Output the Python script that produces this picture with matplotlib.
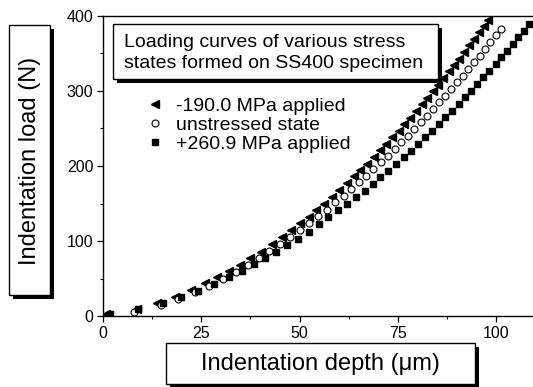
import matplotlib
matplotlib.use("Agg")
import matplotlib.pyplot as plt
import matplotlib.patheffects as pe
from matplotlib.patches import Rectangle

plt.rcParams["font.family"] = ["Liberation Sans", "DejaVu Sans"]

# -190.0 MPa applied (filled left triangles)
comp_depth = [0.8, 8.6, 13.7, 18.4, 22.3, 25.9, 29.0, 32.0, 34.9, 37.5, 40.3,
              43.0, 45.6, 47.9, 50.1, 52.3, 54.2, 56.3, 58.2, 60.1, 62.0,
              63.8, 65.5, 67.2, 68.9, 70.5, 72.1, 73.6, 75.2, 76.7, 78.2,
              79.6, 81.1, 82.5, 83.9, 85.2, 86.6, 88.0, 89.3, 90.6, 91.9,
              93.2, 94.4, 95.6, 96.9, 98.0]
comp_load = [2.5, 10.0, 17.0, 26.0, 35.0, 43.5, 52.0, 60.0, 68.5, 77.0, 86.0,
             96.0, 105.5, 114.5, 123.5, 132.5, 141.0, 150.0, 159.0, 168.0, 177.0,
             186.0, 194.5, 203.0, 212.0, 221.0, 229.5, 238.0, 247.0, 256.0, 264.5,
             273.0, 282.0, 291.0, 299.5, 308.0, 317.0, 326.0, 334.5, 343.0, 352.0,
             361.0, 369.5, 378.0, 387.0, 395.0]

# unstressed state (open circles)
free_depth = [8.0, 14.7, 19.2, 23.4, 27.0, 30.5, 33.8, 36.9, 39.8, 42.3,
              45.0, 47.7, 50.1, 52.5, 54.7, 56.9, 59.1, 61.2, 63.2, 65.1,
              67.0, 68.8, 70.7, 72.4, 74.2, 75.9, 77.6, 79.2, 80.8, 82.5,
              84.0, 85.6, 87.1, 88.6, 90.1, 91.6, 93.0, 94.4, 95.9, 97.3,
              98.6, 100.0, 101.3]
free_load = [5.7, 14.5, 22.5, 31.5, 40.5, 49.5, 58.5, 67.5, 77.0, 86.5,
             96.0, 105.5, 114.5, 124.0, 133.0, 142.0, 151.5, 160.4, 169.3, 178.2,
             187.1, 196.0, 204.9, 213.8, 222.7, 231.6, 240.5, 249.4, 258.3, 267.2,
             276.1, 285.0, 293.9, 302.8, 311.7, 320.6, 329.5, 338.4, 347.3, 356.2,
             365.1, 374.0, 382.9]

# +260.9 MPa applied (filled squares)
tens_depth = [1.8, 8.8, 15.3, 19.8, 24.3, 28.3, 32.1, 35.4, 38.4, 41.2,
              44.0, 46.9, 49.7, 52.5, 55.0, 57.3, 59.9, 62.2, 64.4, 66.6,
              68.6, 70.6, 72.6, 74.6, 76.5, 78.3, 80.2, 81.9, 83.7, 85.4,
              87.1, 88.8, 90.5, 92.1, 93.7, 95.2, 96.8, 98.3, 99.9, 101.3,
              102.8, 104.3, 105.7, 107.1, 108.5]
tens_load = [2.5, 9.0, 17.7, 25.0, 33.8, 43.0, 51.6, 60.0, 69.3, 77.0,
             85.7, 94.7, 102.7, 112.4, 122.7, 131.6, 141.0, 149.3, 158.2, 167.1,
             176.0, 184.8, 193.7, 202.6, 211.5, 220.4, 229.3, 238.1, 247.0, 255.9,
             264.8, 273.7, 282.6, 291.4, 300.3, 309.2, 318.1, 327.0, 335.9, 344.7,
             353.6, 362.5, 371.4, 380.3, 389.2]

labels = ["-190.0 MPa applied", "unstressed state", "+260.9 MPa applied"]
x_ticks = [0, 25, 50, 75, 100]
y_ticks = [0, 100, 200, 300, 400]

fig = plt.figure(figsize=(5.33, 3.87), dpi=100)
ax = fig.add_axes([103 / 533, 71 / 387, 432.3 / 533, 300 / 387])

ax.plot(comp_depth, comp_load, ls="none", marker="<", ms=5.5, color="k",
        mec="k", label=labels[0])
ax.plot(free_depth, free_load, ls="none", marker="o", ms=5.0, mfc="white",
        mec="k", mew=0.8, label=labels[1])
ax.plot(tens_depth, tens_load, ls="none", marker="s", ms=4.3, color="k",
        label=labels[2])

ax.set_xlim(0, 110)
ax.set_ylim(0, 400)
ax.set_xticks(x_ticks)
ax.set_yticks(y_ticks)
ax.set_xticks([12.5, 37.5, 62.5, 87.5], minor=True)
ax.set_yticks([50, 150, 250, 350], minor=True)
ax.tick_params(which="major", direction="out", length=4.5, width=0.9,
               labelsize=11.5, pad=2.5, top=False, right=False)
ax.tick_params(which="minor", direction="out", length=2.5, width=0.8,
               top=False, right=False)
for s in ax.spines.values():
    s.set_linewidth(1.0)
ax.spines["right"].set_visible(False)

ax.legend(loc="center left", bbox_to_anchor=(145.3 / 533, 262 / 387),
          bbox_transform=fig.transFigure, frameon=False, fontsize=14,
          borderpad=0, borderaxespad=0, handlelength=1.0, handletextpad=0.58,
          labelspacing=0.06, numpoints=1)


def shadow_box(x0, y0, x1, y1):
    # pixel coords measured from the top left corner
    r = Rectangle((x0 / 533, 1 - y1 / 387), (x1 - x0) / 533, (y1 - y0) / 387,
                  transform=fig.transFigure, facecolor="white", edgecolor="k",
                  linewidth=1.0, zorder=5)
    r.set_path_effects([pe.SimplePatchShadow(offset=(3.2, -3.2),
                                             shadow_rgbFace="k", alpha=1.0),
                        pe.Normal()])
    fig.add_artist(r)


shadow_box(9, 25, 50, 295)
fig.text(30 / 533, 1 - 161 / 387, "Indentation load (N)", rotation=90,
         ha="center", va="center", fontsize=17, zorder=6)

shadow_box(166, 343, 475, 384)
fig.text(320 / 533, 1 - 364 / 387, "Indentation depth (\u03bcm)",
         ha="center", va="center", fontsize=17, zorder=6)

shadow_box(113, 24, 438, 79)
fig.text(124 / 533, 1 - 53 / 387,
         "Loading curves of various stress\nstates formed on SS400 specimen",
         ha="left", va="center", fontsize=14, linespacing=1.3, zorder=6)

fig.savefig("out.png", dpi=100)
